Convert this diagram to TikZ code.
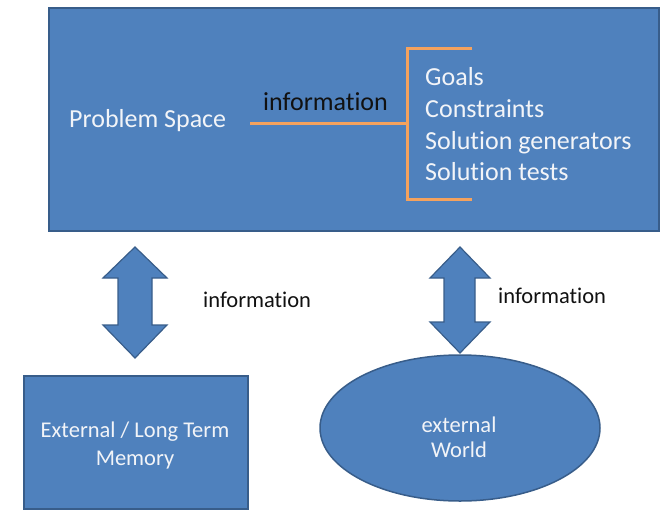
\documentclass[tikz,border=0pt]{standalone}
\usepackage{fontspec}
\setmainfont[Ligatures=NoCommon]{Carlito}
\usetikzlibrary{shapes.geometric}
\definecolor{boxblue}{HTML}{4F81BD}
\definecolor{boxedge}{HTML}{385D8A}
\definecolor{brkorange}{HTML}{F5A25D}
\definecolor{lighttxt}{HTML}{F2F4F8}
\definecolor{darktxt}{HTML}{111111}
\tikzset{
  bluebox/.style={draw=boxedge, fill=boxblue, line width=1.5pt, inner sep=0pt},
  bigtxt/.style={font=\fontsize{26}{31}\selectfont, inner sep=0pt, anchor=base west},
  smalltxt/.style={font=\fontsize{22.5}{27}\selectfont, inner sep=0pt, anchor=base},
  brkline/.style={draw=brkorange, line width=3pt},
  dblarrow/.style={draw=boxedge, fill=boxblue, line width=1.2pt, line join=miter}
}
\begin{document}
\begin{tikzpicture}[x=1pt,y=-1pt]
\useasboundingbox (0,0) rectangle (662,512);
% top box
\node[bluebox, anchor=north west, minimum width=610pt, minimum height=223pt] (ps) at (48,7) {};
\node[bigtxt, text=lighttxt] (pstitle) at (69,127) {Problem Space};
\node[bigtxt, text=darktxt] (info) at (263,110) {information};
\node[bigtxt, text=lighttxt] (goals) at (425,85) {Goals};
\node[bigtxt, text=lighttxt] (cons) at (425,117) {Constraints};
\node[bigtxt, text=lighttxt] (gens) at (425,149) {Solution generators};
\node[bigtxt, text=lighttxt] (tests) at (425,180) {Solution tests};
% bracket
\coordinate (h0) at (250,123);
\coordinate (h1) at (407,123);
\coordinate (bt) at (407,48);
\coordinate (bb) at (407,199);
\coordinate (btr) at (472,48);
\coordinate (bbr) at (472,199);
\draw[brkline] (h0) -- (h1);
\draw[brkline] (btr) -- (bt) -- (bb) -- (bbr);
% bottom shapes
\node[bluebox, anchor=north west, minimum width=224pt, minimum height=133pt] (mem) at (23,375) {};
\node[smalltxt, text=lighttxt] (memt1) at (135,437) {External / Long Term};
\node[smalltxt, text=lighttxt] (memt2) at (135,465) {Memory};
\node[bluebox, ellipse, minimum width=280pt, minimum height=146pt] (world) at (460,428) {};
\node[smalltxt, text=lighttxt] (wt1) at (459,432) {external};
\node[smalltxt, text=lighttxt] (wt2) at (459,457) {World};
% double arrows
\draw[dblarrow] (135,247) -- (167,278) -- (152,278) -- (152,325) -- (167,325) -- (135,358)
  -- (103,325) -- (118,325) -- (118,278) -- (103,278) -- cycle;
\draw[dblarrow] (460,247) -- (490,278) -- (475,278) -- (475,322) -- (490,322) -- (460,353)
  -- (430,322) -- (444,322) -- (444,278) -- (430,278) -- cycle;
\node[smalltxt, anchor=base west, text=darktxt] (infol) at (203,307) {information};
\node[smalltxt, anchor=base west, text=darktxt] (infor) at (498,303) {information};
\end{tikzpicture}
\end{document}
